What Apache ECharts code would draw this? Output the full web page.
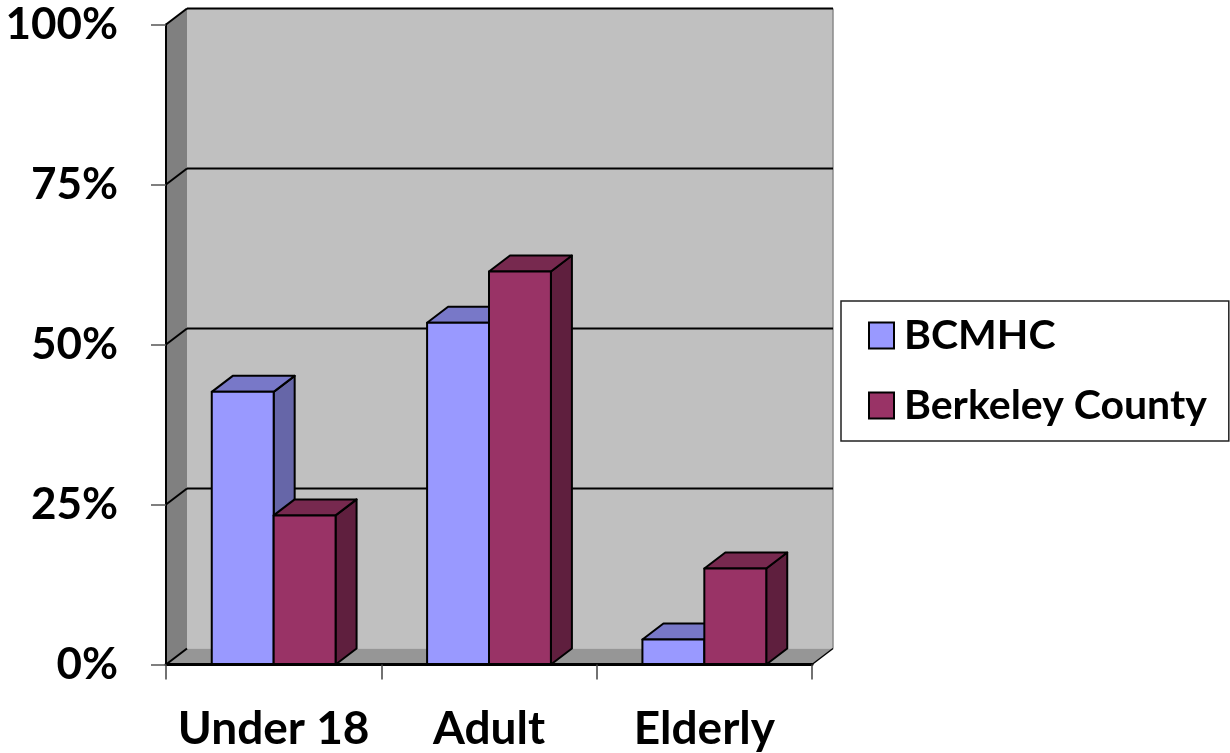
<!DOCTYPE html>
<html>
<head>
<meta charset="utf-8">
<script src="https://cdn.jsdelivr.net/npm/echarts@6/dist/echarts.min.js"></script>
<style>
  html, body { margin: 0; padding: 0; background: #fff; }
  #chart { width: 1230px; height: 753px; }
</style>
</head>
<body>
<div id="chart"></div>
<script>
// ---- data ----
const categories = ['Under 18', 'Adult', 'Elderly'];
const bcmhc = [42.6, 53.4, 3.9];
const berkeley = [23.3, 61.4, 15.0];
const seriesNames = ['BCMHC', 'Berkeley County'];
const yTicks = [0, 25, 50, 75, 100];

// ---- style ----
const DX = 21, DY = -16;          // 3D depth offset
const BAR_RATIO = 0.2875;         // bar width as fraction of category band
const FONT = 'Lato';
const colBlue = { front: '#9999ff', top: '#7878c8', side: '#6666a8' };
const colRed  = { front: '#993366', top: '#77294f', side: '#5f1f3e' };

const chart = echarts.init(document.getElementById('chart'), null, { renderer: 'canvas' });

function wallsRender(params, api) {
  const bw = api.size([1, 0])[0];
  const n = categories.length;
  const L = api.coord([0, 0])[0] - bw / 2;
  const R = api.coord([n - 1, 0])[0] + bw / 2;
  const B = api.coord([0, 0])[1];
  const T = api.coord([0, yTicks[yTicks.length - 1]])[1];
  const children = [];
  children.push({ type: 'polygon', shape: { points: [[L + DX, T + DY], [R + DX, T + DY], [R + DX, B + DY], [L + DX, B + DY]] },
    style: { fill: '#c0c0c0', stroke: null } });
  children.push({ type: 'polygon', shape: { points: [[L, T], [L + DX, T + DY], [L + DX, B + DY], [L, B]] },
    style: { fill: '#808080', stroke: null } });
  children.push({ type: 'polygon', shape: { points: [[L, B], [L + DX, B + DY], [R + DX, B + DY], [R, B]] },
    style: { fill: '#969696', stroke: null } });
  children.push({ type: 'line', shape: { x1: R + DX, y1: T + DY, x2: R + DX, y2: B + DY },
    style: { stroke: '#8a8a8a', lineWidth: 1.5 } });
  children.push({ type: 'line', shape: { x1: R, y1: B, x2: R + DX, y2: B + DY },
    style: { stroke: '#000', lineWidth: 1.5 } });
  yTicks.forEach(function (v) {
    const y = api.coord([0, v])[1];
    if (v > 0) {
      children.push({ type: 'line', shape: { x1: L + DX, y1: y + DY, x2: R + DX, y2: y + DY },
        style: { stroke: '#000', lineWidth: 2 } });
    }
    children.push({ type: 'line', shape: { x1: L, y1: y, x2: L + DX, y2: y + DY },
      style: { stroke: '#000', lineWidth: 2 } });
  });
  return { type: 'group', children: children };
}

function makeBarRender(side, col) {
  return function (params, api) {
    const idx = api.value(0);
    const v = api.value(1);
    const top = api.coord([idx, v]);
    const base = api.coord([idx, 0]);
    const bw = api.size([1, 0])[0];
    const w = bw * BAR_RATIO;
    const x0 = side < 0 ? top[0] - w : top[0];
    const x1 = x0 + w;
    const yt = top[1], yb = base[1];
    const st = { stroke: '#000', lineWidth: 2, lineJoin: 'round' };
    return {
      type: 'group',
      children: [
        { type: 'polygon', shape: { points: [[x1, yt], [x1 + DX, yt + DY], [x1 + DX, yb + DY], [x1, yb]] },
          style: Object.assign({ fill: col.side }, st) },
        { type: 'polygon', shape: { points: [[x0, yt], [x0 + DX, yt + DY], [x1 + DX, yt + DY], [x1, yt]] },
          style: Object.assign({ fill: col.top }, st) },
        { type: 'rect', shape: { x: x0, y: yt, width: w, height: yb - yt },
          style: Object.assign({ fill: col.front }, st) }
      ]
    };
  };
}

const option = {
  animation: false,
  backgroundColor: '#fff',
  grid: { left: 166, right: 418, top: 24.5, bottom: 88.5, containLabel: false },
  xAxis: {
    type: 'category',
    data: categories,
    z: 10,
    axisLine: { show: true, lineStyle: { color: '#000', width: 3 } },
    axisTick: { show: true, interval: 0, length: 15, lineStyle: { color: '#444', width: 1.5 } },
    axisLabel: { interval: 0, margin: 42, color: '#000', fontFamily: FONT, fontWeight: 'bold', fontSize: 46 },
    splitLine: { show: false }
  },
  yAxis: {
    type: 'value',
    min: 0, max: 100, interval: 25,
    z: 10,
    axisLine: { show: true, lineStyle: { color: '#000', width: 2 } },
    axisTick: { show: true, length: 15, lineStyle: { color: '#555', width: 1.5 } },
    axisLabel: { margin: 48, color: '#000', fontFamily: FONT, fontWeight: 'bold', fontSize: 44,
      padding: [4, 0, 0, 0],
      formatter: function (v) { return v + '%'; } },
    splitLine: { show: false }
  },
  legend: {
    data: seriesNames,
    orient: 'vertical',
    left: 841, top: 301,
    padding: [14, 22, 15, 27],
    itemGap: 29,
    itemWidth: 25, itemHeight: 26,
    icon: 'rect',
    backgroundColor: '#fff',
    borderColor: '#222', borderWidth: 1.5,
    itemStyle: { borderColor: '#000', borderWidth: 2 },
    textStyle: { color: '#000', fontFamily: FONT, fontWeight: 'bold', fontSize: 41, lineHeight: 41, padding: [0, 0, 0, 5] }
  },
  series: [
    { type: 'custom', name: 'walls', silent: true, z: 1, clip: false,
      data: [[0, 0]], renderItem: wallsRender },
    { type: 'custom', name: seriesNames[0], z: 3, clip: false,
      itemStyle: { color: colBlue.front },
      data: bcmhc.map(function (v, i) { return [i, v]; }),
      renderItem: makeBarRender(-1, colBlue) },
    { type: 'custom', name: seriesNames[1], z: 4, clip: false,
      itemStyle: { color: colRed.front },
      data: berkeley.map(function (v, i) { return [i, v]; }),
      renderItem: makeBarRender(1, colRed) }
  ]
};
chart.setOption(option);
</script>
</body>
</html>
